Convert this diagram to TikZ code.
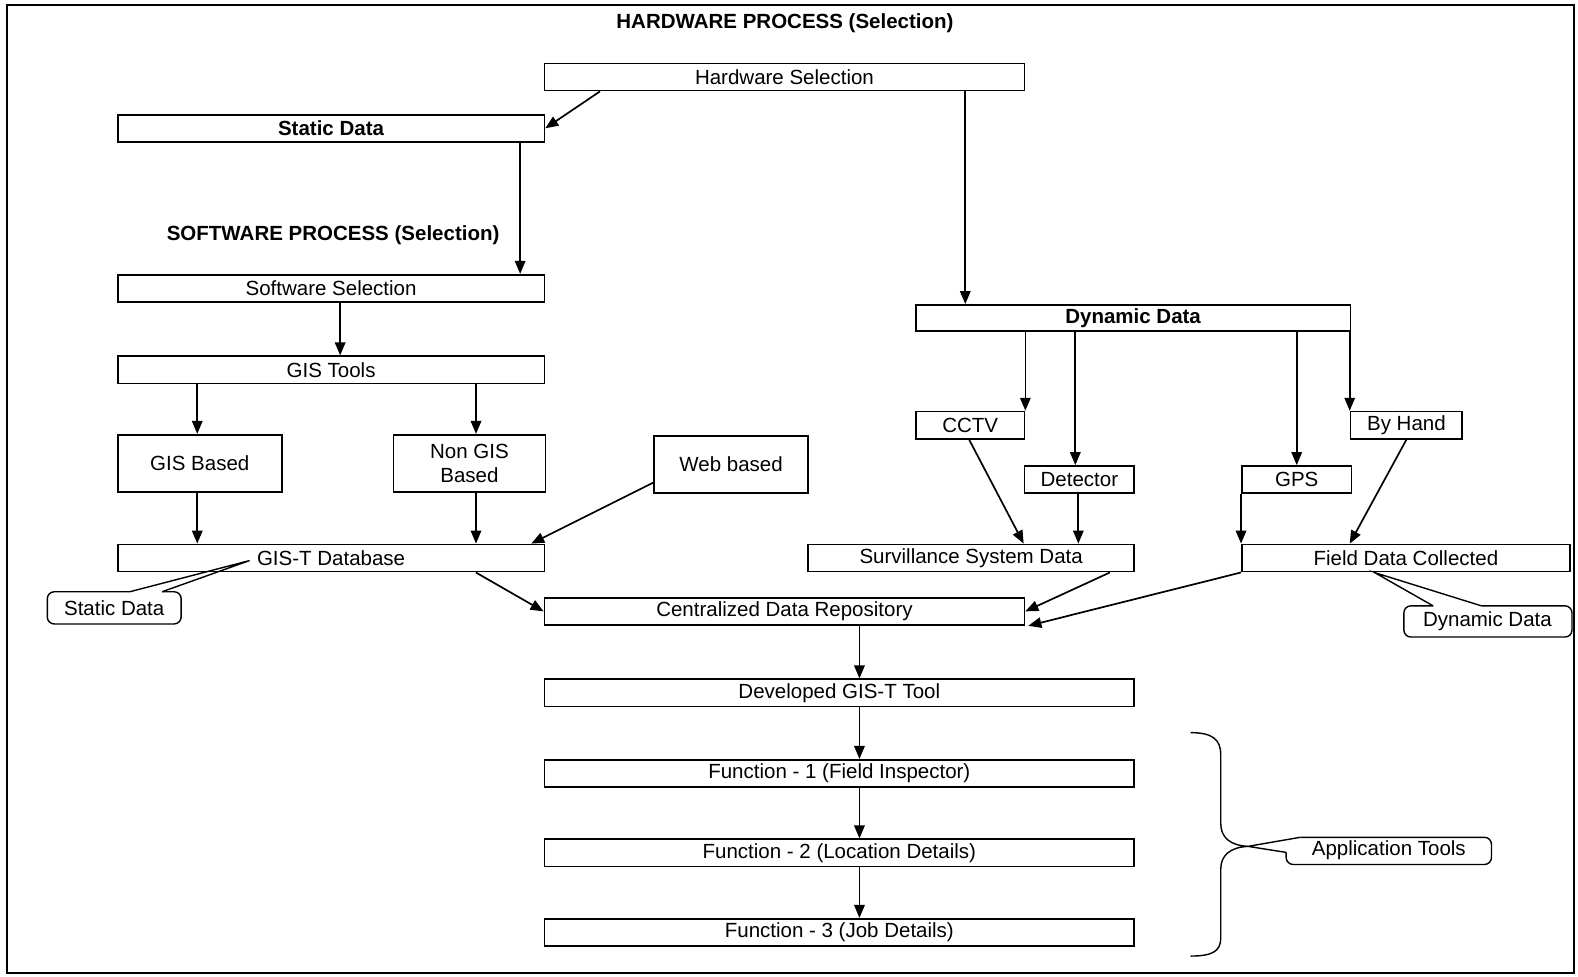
\documentclass[tikz,border=0pt]{standalone}
\usepackage{fontspec}
\setmainfont{Liberation Sans}
\usetikzlibrary{arrows.meta,calc}
\begin{document}
\begin{tikzpicture}[x=1.0064pt,y=-1.0064pt,
  txt/.style={font=\fontsize{20.5}{24}\selectfont},
  box/.style 2 args={txt, draw, line width=1.7pt, inner sep=0pt,
    minimum width=#1*1.0064pt, minimum height=#2*1.0064pt},
  arr/.style={line width=1.7pt, -{Triangle[length=13pt,width=10.5pt]}},
  call/.style={line width=1.4pt},
  rc/.style={call, rounded corners=7pt}]
\useasboundingbox (0,0) rectangle (1568,970);
\draw[line width=1.7pt] (7,5) rectangle (1564,967);

% titles
\node[txt, font=\fontsize{20.5}{24}\selectfont\bfseries] (t1) at (780,23) {HARDWARE PROCESS (Selection)};
\node[txt, font=\fontsize{20.5}{24}\selectfont\bfseries] (t2) at (331,234) {SOFTWARE PROCESS (Selection)};

% boxes
\node[box={477}{27}] (hw) at (779.5,76.5) {Hardware Selection};
\node[box={424}{27}] (static) at (329,127.5) {\textbf{Static Data}};
\node[box={424}{27}] (sw) at (329,286.5) {Software Selection};
\node[box={424}{27}] (gist) at (329,367.5) {GIS Tools};
\node[box={163}{57}] (gisb) at (198.5,460.5) {GIS Based};
\node[box={151}{57}, align=center] (ngis) at (466.5,460.5) {Non GIS\\Based};
\node[box={153}{57}] (web) at (726.5,461.5) {Web based};
\node[box={424}{27}] (gdb) at (329,554.5) {GIS-T Database};
\node[box={432}{26}] (dyn) at (1126,316) {\textbf{Dynamic Data}};
\node[box={108}{27}] (cctv) at (964,422.5) {CCTV};
\node[box={109}{27}] (det) at (1072.5,476.5) {Detector};
\node[box={109}{27}] (gps) at (1288.5,476.5) {GPS};
\node[box={111}{27}] (hand) at (1397.5,422.5) {By Hand};
\node[box={324}{27}] (ssd) at (965,554.5) {Survillance System Data};
\node[box={326}{27}] (fdc) at (1397,554.5) {Field Data Collected};
\node[box={477}{27}] (cdr) at (779.5,607.5) {Centralized Data Repository};
\node[box={586}{27}] (dev) at (834,688.5) {Developed GIS-T Tool};
\node[box={586}{27}] (f1) at (834,768.5) {Function - 1 (Field Inspector)};
\node[box={586}{27}] (f2) at (834,847.5) {Function - 2 (Location Details)};
\node[box={586}{27}] (f3) at (834,926.5) {Function - 3 (Job Details)};

% helper coordinates
\coordinate (d1) at ($(dyn.north west)+(50,0)$);
\coordinate (s1) at ($(sw.north east)+(-25,0)$);
\coordinate (g1) at ($(gist.south)+(-133,0)$);
\coordinate (g2) at ($(gist.south)+(144,0)$);
\coordinate (k1) at ($(dev.north)+(20,0)$);
\coordinate (dd1) at ($(det.north)+(-4,0)$);

% connectors
\draw[arr] ($(hw.south west)+(56,0)$) -- (static.east);
\draw[arr] (d1 |- hw.south) -- (d1);
\draw[arr] (s1 |- static.south) -- (s1);
\draw[arr] ($(sw.south)+(9,0)$) -- ($(gist.north)+(9,0)$);
\draw[arr] (g1) -- (g1 |- gisb.north);
\draw[arr] (g2) -- (g2 |- ngis.north);
\draw[arr] (g1 |- gisb.south) -- (g1 |- gdb.north);
\draw[arr] (g2 |- ngis.south) -- (g2 |- gdb.north);
\draw[arr] ($(web.west)+(0,18)$) -- ($(gdb.north east)+(-14,0)$);
\draw[arr] ($(gdb.south east)+(-69,0)$) -- (cdr.west);

\draw[arr] (cctv.north east |- dyn.south) -- (cctv.north east);
\draw[arr] (dd1 |- dyn.south) -- (dd1);
\draw[arr] (gps.north |- dyn.south) -- (gps.north);
\draw[arr] (hand.north west |- dyn.south) -- (hand.north west);
\draw[arr] ($(cctv.south)+(-1,0)$) -- ($(ssd.north west)+(215,0)$);
\draw[arr] ($(det.south)+(-1,0)$) -- ($(det.south |- ssd.north)+(-1,0)$);
\draw[arr] (gps.south west) -- (fdc.north west);
\draw[arr] (hand.south) -- ($(fdc.north west)+(108,0)$);
\draw[arr] ($(ssd.south east)+(-25,0)$) -- (cdr.east);
\draw[arr] (fdc.south west) -- ($(cdr.south east)+(3,0)$);

\draw[arr] (k1 |- cdr.south) -- (k1);
\draw[arr] (k1 |- dev.south) -- (k1 |- f1.north);
\draw[arr] (k1 |- f1.south) -- (k1 |- f2.north);
\draw[arr] (k1 |- f2.south) -- (k1 |- f3.north);

% callout: Static Data
\node[txt, inner sep=0pt] (cs) at (113.5,604) {Static Data};
\draw[rc] (161,588) -- (180,588) -- (180,620) -- (47,620) -- (47,588) -- (129,588);
\draw[call] (129,588) -- (248,557) -- (161,588);

% callout: Dynamic Data
\node[txt, inner sep=0pt] (cd) at (1478,617) {Dynamic Data};
\draw[rc] (1472,602) -- (1562,602) -- (1562,633) -- (1395,633) -- (1395,602) -- (1424,602);
\draw[call] (1424,602) -- (1366,569) -- (1472,602);

% brace and Application Tools
\coordinate (bt) at (1240,841);
\draw[call] (1183,728) .. controls (1205,728) and (1213,735) .. (1213,750) -- (1213,818)
  .. controls (1213,832) and (1222,840) .. (bt)
  .. controls (1222,842) and (1213,850) .. (1213,864) -- (1213,932)
  .. controls (1213,945) and (1205,950) .. (1183,950);
\node[txt, inner sep=0pt] (ca) at (1380,845) {Application Tools};
\draw[rc] (1278,847) -- (1278,859) -- (1482,859) -- (1482,832) -- (1292,832);
\draw[call] (1292,832) -- (bt) -- (1278,847);
\end{tikzpicture}
\end{document}
